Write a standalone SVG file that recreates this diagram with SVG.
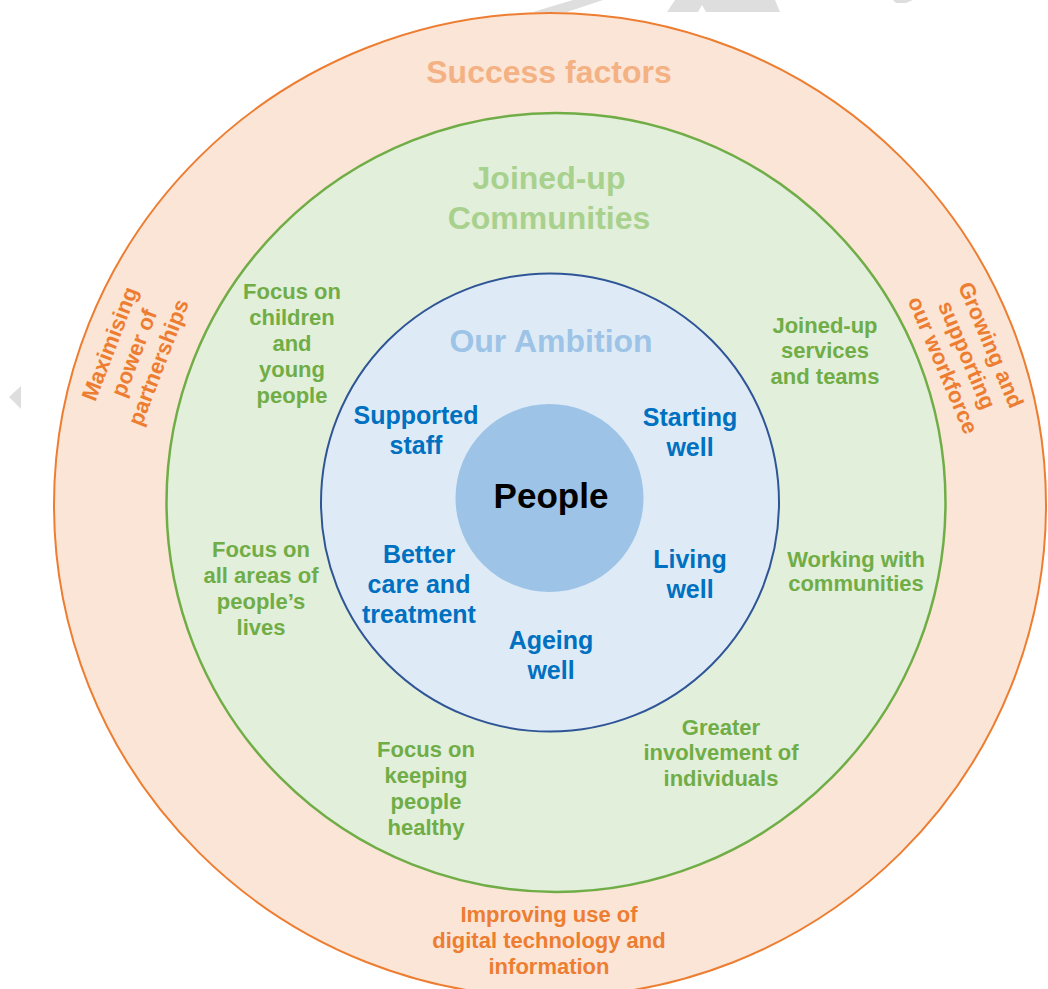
<svg xmlns="http://www.w3.org/2000/svg" width="1048" height="989" viewBox="0 0 1048 989">
<style>
text{font-family:"Liberation Sans",Arial,sans-serif;font-weight:bold;text-anchor:middle}
.title{font-size:32px}
.orange{fill:#ed7d31;font-size:22px}
.green{fill:#70ad47;font-size:22px}
.blue{fill:#0070c0;font-size:25px}
.wm{fill:#dedede}
</style>
<rect width="1048" height="989" fill="#ffffff"/>
<g id="watermark">
<polygon class="wm" points="573,0 603,0 567,12 533,12"/>
<polygon class="wm" points="675,0 775,0 780,12 706,12 702,5 698,12 667,12"/>
<polygon class="wm" points="893,0 913,0 906,3 896,3"/>
<polygon class="wm" points="9,397 21,386 21,409"/>
</g>
<g id="success-factors">
<ellipse cx="550" cy="505" rx="496" ry="492" fill="#fbe5d6" stroke="#ed7d31" stroke-width="2"/>
<text class="title" x="549" y="83" fill="#f4b183">Success factors</text>
<g transform="translate(134,353) rotate(-69)">
<text class="orange" x="0" y="-18.5">Maximising</text>
<text class="orange" x="0" y="7.5">power of</text>
<text class="orange" x="0" y="33.5">partnerships</text>
</g>
<g transform="translate(967,355) rotate(67)">
<text class="orange" x="0" y="-18.5">Growing and</text>
<text class="orange" x="0" y="7.5">supporting</text>
<text class="orange" x="0" y="33.5">our workforce</text>
</g>
<text class="orange" x="549" y="921.5">Improving use of</text>
<text class="orange" x="549" y="947.5">digital technology and</text>
<text class="orange" x="549" y="973.5">information</text>
</g>
<g id="joined-up-communities">
<circle cx="556" cy="502.5" r="389.5" fill="#e2efda" stroke="#70ad47" stroke-width="2.5"/>
<text class="title" x="549" y="189" fill="#a9d18e">Joined-up</text>
<text class="title" x="549" y="229" fill="#a9d18e">Communities</text>
<text class="green" x="292" y="298.5">Focus on</text>
<text class="green" x="292" y="324.5">children</text>
<text class="green" x="292" y="350.5">and</text>
<text class="green" x="292" y="377">young</text>
<text class="green" x="292" y="403">people</text>
<text class="green" x="825" y="332.5">Joined-up</text>
<text class="green" x="825" y="357.5">services</text>
<text class="green" x="825" y="383.5">and teams</text>
<text class="green" x="856" y="566.5">Working with</text>
<text class="green" x="856" y="590.5">communities</text>
<text class="green" x="721" y="734.5">Greater</text>
<text class="green" x="721" y="759.5">involvement of</text>
<text class="green" x="721" y="785.5">individuals</text>
<text class="green" x="426" y="756.5">Focus on</text>
<text class="green" x="426" y="782.5">keeping</text>
<text class="green" x="426" y="808.5">people</text>
<text class="green" x="426" y="834.5">healthy</text>
<text class="green" x="261" y="556.5">Focus on</text>
<text class="green" x="261" y="582.5">all areas of</text>
<text class="green" x="261" y="608.5">people’s</text>
<text class="green" x="261" y="634.5">lives</text>
</g>
<g id="our-ambition">
<circle cx="550" cy="502.5" r="229" fill="#deebf7" stroke="#2f5597" stroke-width="2"/>
<text class="title" x="551" y="352" fill="#9dc3e6">Our Ambition</text>
<text class="blue" x="416" y="424">Supported</text>
<text class="blue" x="416" y="454">staff</text>
<text class="blue" x="690" y="426">Starting</text>
<text class="blue" x="690" y="456">well</text>
<text class="blue" x="419" y="563">Better</text>
<text class="blue" x="419" y="593">care and</text>
<text class="blue" x="419" y="623">treatment</text>
<text class="blue" x="690" y="568">Living</text>
<text class="blue" x="690" y="598">well</text>
<text class="blue" x="551" y="649">Ageing</text>
<text class="blue" x="551" y="679">well</text>
</g>
<g id="people">
<circle cx="549.5" cy="498" r="94" fill="#9dc3e6"/>
<text x="551" y="508" font-size="35" fill="#000000">People</text>
</g>
<g id="connectors"/>
</svg>
